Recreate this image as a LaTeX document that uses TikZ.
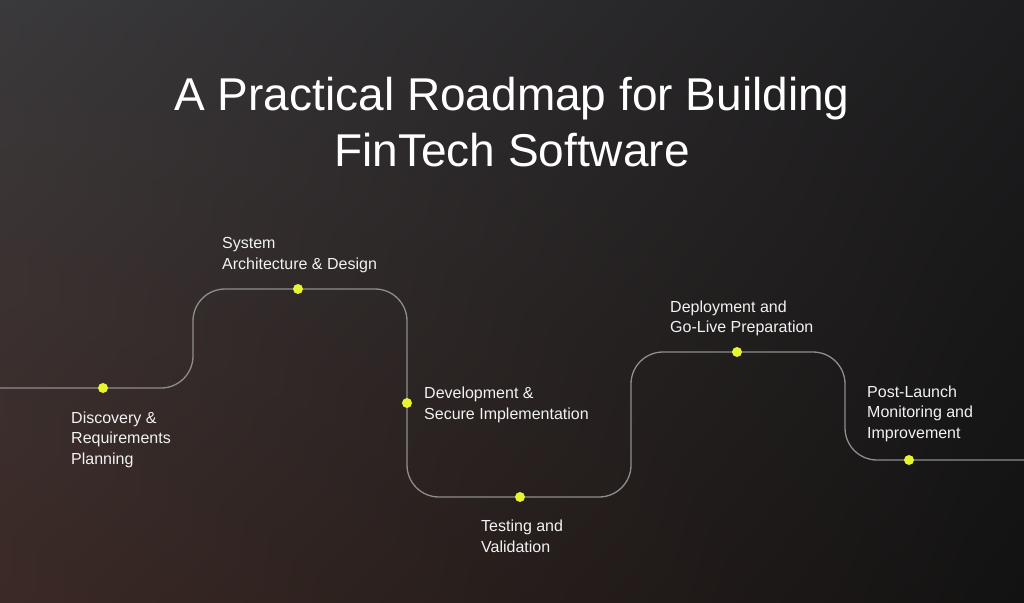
\documentclass[tikz,border=0pt]{standalone}
\usepackage{fontspec}
\setmainfont{Liberation Sans}
\usetikzlibrary{shadings}
\definecolor{bgUL}{HTML}{3A393B}
\definecolor{bgUR}{HTML}{1D1C1E}
\definecolor{bgLL}{HTML}{3B2925}
\definecolor{bgLR}{HTML}{121212}
\definecolor{roadgray}{HTML}{8E8E8E}
\definecolor{dotlime}{HTML}{E6F432}
\definecolor{txtwhite}{HTML}{F2F2F2}
\newcommand\steplines[1]{\vtop{\baselineskip=20.5pt\halign{##\hfil\cr#1\crcr}}}
\newcommand\titlelines[1]{\vtop{\baselineskip=56pt\halign{\hfil##\hfil\cr#1\crcr}}}
\tikzset{
  road/.style={draw=roadgray, line width=1.3pt, rounded corners=32pt},
  milestone/.style={circle, fill=dotlime, inner sep=0pt, minimum size=10pt},
  steplabel/.style={anchor=base west, inner sep=0pt, text=txtwhite, font=\fontsize{16}{20.5}\selectfont},
  titletext/.style={anchor=base, inner sep=0pt, text=white, font=\fontsize{46}{56}\selectfont}
}
\begin{document}
\begin{tikzpicture}[x=1pt,y=-1pt]
\shade[upper left=bgUL, upper right=bgUR, lower left=bgLL, lower right=bgLR] (0,0) rectangle (1024,602);
\useasboundingbox (0,0) rectangle (1024,602);
% title
\node[titletext] (title) at (512,110) {\titlelines{A Practical Roadmap for Building\cr FinTech Software}};
% road geometry
\coordinate (w) at (0,388);
\coordinate (e) at (1024,460);
\coordinate (k1) at (193,388);
\coordinate (k2) at (193,289);
\coordinate (k3) at (407,289);
\coordinate (k4) at (407,497);
\coordinate (k5) at (631,497);
\coordinate (k6) at (631,352);
\coordinate (k7) at (845,352);
\coordinate (k8) at (845,460);
\coordinate (p1) at (103,388);
\coordinate (p2) at (298,289);
\coordinate (p3) at (407,403);
\coordinate (p4) at (520,497);
\coordinate (p5) at (737,352);
\coordinate (p6) at (909,460);
\draw[road] (w) -- (p1) -- (k1) -- (k2) -- (p2) -- (k3) -- (p3) -- (k4) -- (p4) -- (k5) -- (k6) -- (p5) -- (k7) -- (k8) -- (p6) -- (e);
% milestones
\node[milestone] (d1) at (p1) {};
\node[milestone] (d2) at (p2) {};
\node[milestone] (d3) at (p3) {};
\node[milestone] (d4) at (p4) {};
\node[milestone] (d5) at (p5) {};
\node[milestone] (d6) at (p6) {};
% labels
\node[steplabel] (l1) at (71,423) {\steplines{Discovery \&\cr Requirements\cr Planning}};
\node[steplabel] (l2) at (222,248.5) {\steplines{System\cr Architecture \& Design}};
\node[steplabel] (l3) at (424,398.5) {\steplines{Development \&\cr Secure Implementation}};
\node[steplabel] (l4) at (481,531.5) {\steplines{Testing and\cr Validation}};
\node[steplabel] (l5) at (670,312) {\steplines{Deployment and\cr Go-Live Preparation}};
\node[steplabel] (l6) at (867,397) {\steplines{Post-Launch\cr Monitoring and\cr Improvement}};
\end{tikzpicture}
\end{document}
